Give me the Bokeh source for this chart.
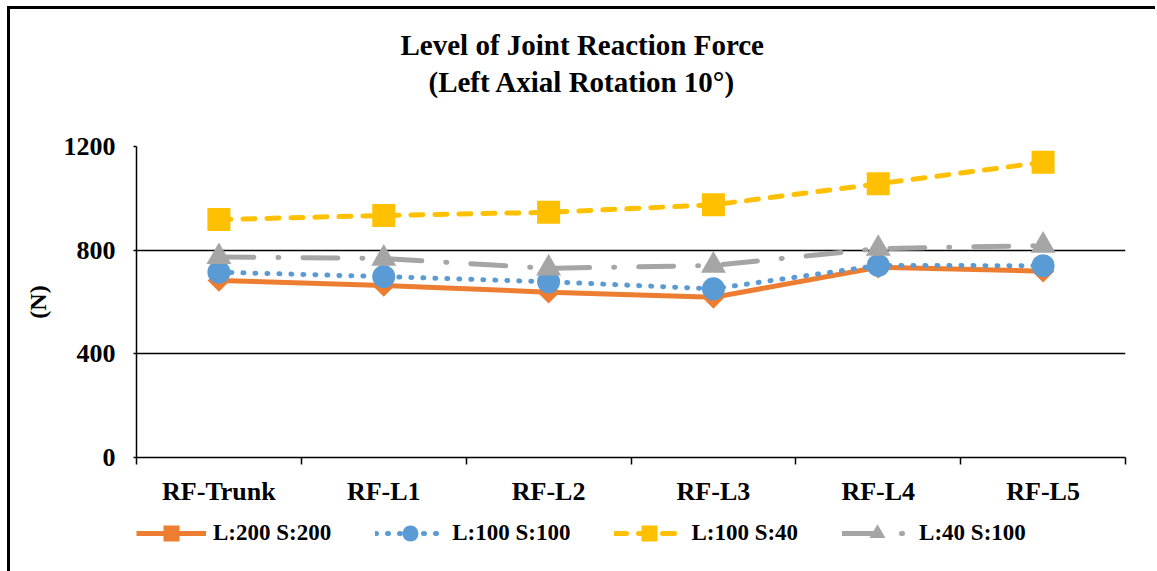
from bokeh.plotting import figure
from bokeh.layouts import column
from bokeh.models import (Range1d, FixedTicker, Legend, LegendItem, Title)
from bokeh.embed import file_html
from bokeh.resources import INLINE

categories = ["RF-Trunk", "RF-L1", "RF-L2", "RF-L3", "RF-L4", "RF-L5"]
s_200_200 = [683, 664, 638, 618, 734, 719]
s_100_100 = [715, 698, 678, 651, 741, 740]
s_100_40 = [918, 934, 946, 975, 1056, 1139]
s_40_100 = [774, 768, 730, 741, 806, 818]
series_names = ["L:200 S:200", "L:100 S:100", "L:100 S:40", "L:40 S:100"]
y_ticks = [0, 400, 800, 1200]

FONT = "Liberation Serif"

x = list(range(1, len(categories) + 1))

p = figure(frame_width=989, frame_height=311, output_backend="svg", toolbar_location=None,
           x_range=Range1d(0.5, len(categories) + 0.5), y_range=Range1d(0, 1200),
           min_border_left=126, min_border_right=30, min_border_top=137,
           min_border_bottom=52)
p.outline_line_color = None
p.background_fill_color = "white"
p.border_fill_color = "white"

# y axis
p.yaxis.ticker = FixedTicker(ticks=y_ticks)
p.yaxis.major_label_text_font = FONT
p.yaxis.major_label_text_font_style = "bold"
p.yaxis.major_label_text_font_size = "26px"
p.yaxis.major_label_text_color = "black"
p.yaxis.major_label_standoff = 18
p.yaxis.major_tick_out = 3
p.yaxis.major_tick_in = 0
p.yaxis.minor_tick_line_color = None
p.yaxis.axis_line_color = "black"
p.yaxis.axis_line_width = 1.5
p.yaxis.major_tick_line_color = "black"
p.yaxis.major_tick_line_width = 1.5
p.yaxis.axis_label = "(N)"
p.yaxis.axis_label_text_font = FONT
p.yaxis.axis_label_text_font_style = "bold"
p.yaxis.axis_label_text_font_size = "24px"
p.yaxis.axis_label_text_color = "black"
p.yaxis.axis_label_standoff = 10

# x axis
p.xaxis.ticker = FixedTicker(ticks=x, minor_ticks=[v - 0.5 for v in x] + [x[-1] + 0.5])
p.xaxis.major_label_overrides = {v: c for v, c in zip(x, categories)}
p.xaxis.major_label_text_font = FONT
p.xaxis.major_label_text_font_style = "bold"
p.xaxis.major_label_text_font_size = "26px"
p.xaxis.major_label_text_color = "black"
p.xaxis.major_label_standoff = 12
p.xaxis.major_tick_line_color = None
p.xaxis.minor_tick_out = 7
p.xaxis.minor_tick_in = 0
p.xaxis.minor_tick_line_color = "black"
p.xaxis.minor_tick_line_width = 1.5
p.xaxis.axis_line_color = "black"
p.xaxis.axis_line_width = 1.5

p.xgrid.grid_line_color = None
p.ygrid.ticker = FixedTicker(ticks=y_ticks)
p.ygrid.grid_line_color = "black"
p.ygrid.grid_line_width = 1.5

styles = [
    dict(color="#ED7D31", dash="solid", marker="square", size=16, angle=0.785398),
    dict(color="#5B9BD5", dash="1 11", marker="circle", size=23, angle=0),
    dict(color="#FFC000", dash="12 12", marker="square", size=23, angle=0),
    dict(color="#A5A5A5", dash="35 24 1 24", marker="triangle", size=25, angle=0),
]
data = [s_200_200, s_100_100, s_100_40, s_40_100]


def draw_series(fig, xs, ys, st):
    r1 = fig.line(xs, ys, line_color=st["color"], line_width=5, line_dash=st["dash"],
                  line_cap="round" if st["dash"] != "solid" else "butt", line_join="round")
    r2 = fig.scatter(xs, ys, marker=st["marker"], size=st["size"], angle=st["angle"],
                     fill_color=st["color"], line_color=st["color"], line_width=0)
    return r1, r2


for ys, st in zip(data, styles):
    draw_series(p, x, ys, st)

# two-line title, centred on the whole chart (spacer keeps it clear of the frame)
spacer = Title(text=" ", text_font_size="20px", standoff=24, text_color="white")
t2 = Title(text="(Left Axial Rotation 10°)", align="left", offset=292,
           text_font=FONT, text_font_style="bold", text_font_size="29px",
           text_color="black", standoff=2)
t1 = Title(text="Level of Joint Reaction Force", align="left", offset=264,
           text_font=FONT, text_font_style="bold", text_font_size="29px",
           text_color="black", standoff=3)
p.add_layout(spacer, "above")
p.add_layout(t2, "above")
p.add_layout(t1, "above")

# legend strip underneath the chart (its series lie outside its view, only the key shows)
leg = figure(width=1145, height=62, output_backend="svg", toolbar_location=None,
             x_axis_location=None, y_axis_location=None,
             x_range=Range1d(-10, -9), y_range=Range1d(-10, -9), min_border=0)
leg.outline_line_color = None
leg.xgrid.grid_line_color = None
leg.ygrid.grid_line_color = None
leg.border_fill_color = "white"

items = []
for name, ys, st in zip(series_names, data, styles):
    r1, r2 = draw_series(leg, x, ys, st)
    items.append(LegendItem(label=name, renderers=[r1, r2]))

legend = Legend(items=items, orientation="horizontal", location=(0, 18),
                label_text_font=FONT, label_text_font_style="bold",
                label_text_font_size="23px", label_text_color="black",
                glyph_width=70, glyph_height=40, label_height=40,
                label_standoff=7, spacing=44, padding=0, margin=0,
                border_line_color=None, background_fill_alpha=0)
leg.add_layout(legend, "center")

layout = column(p, leg, spacing=0)
layout.styles = {"margin": "6px 0 0 7px",
                 "border-left": "3px solid black", "border-top": "3px solid black"}

open("out.html", "w").write(file_html(layout, INLINE))
